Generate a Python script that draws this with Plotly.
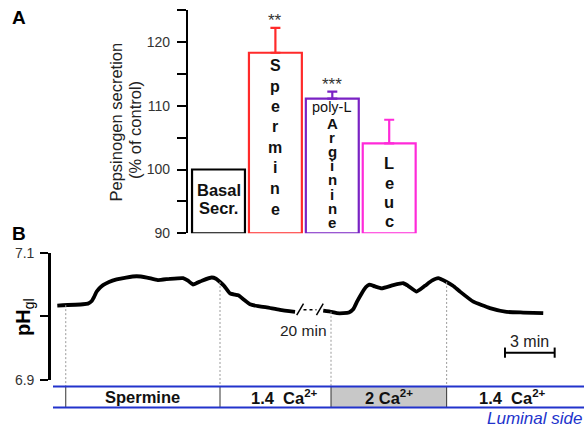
import numpy as np
import plotly.graph_objects as go

W, H = 584, 432
FONT = "Liberation Sans, Arial, sans-serif"

# ---------------- Panel A data ----------------
categories = ["Basal Secr.", "Spermine", "poly-L Arginine", "Leuc"]
secretion = [100.0, 118.3, 111.1, 104.1]          # % of control
secretion_err = [0.0, 3.9, 1.1, 3.7]              # upper error
significance = ["", "**", "***", ""]
bar_colors = ["#000000", "#ff2a2a", "#7a22c4", "#ff2ad9"]
a_ticks = [90, 95, 100, 105, 110, 115, 120, 125]
a_ticklabels = ["90", "", "100", "", "110", "", "120", ""]

# ---------------- Panel B data ----------------
time_min = [0.00, 1.55, 1.85, 2.08, 2.21, 2.38, 2.58, 2.76, 3.12, 3.58, 4.15, 4.79,
            5.41, 6.07, 6.80, 7.59, 7.89, 8.19, 8.73, 9.32, 9.58, 9.82, 10.06, 10.42,
            10.72, 10.92, 11.27, 11.63, 12.12, 12.64, 13.44, 14.35,
            None,
            16.05, 16.56, 16.88, 17.26, 17.60, 17.86, 18.09, 18.37, 18.63, 18.83, 19.17,
            19.58, 20.28, 20.88, 21.17, 21.69, 22.19, 22.61, 22.99, 23.50, 23.88, 24.30,
            25.11, 26.11, 27.12, 28.12, 29.33]
ph_gl = [7.017, 7.019, 7.020, 7.024, 7.030, 7.039, 7.045, 7.049, 7.054, 7.058, 7.061, 7.063,
         7.061, 7.057, 7.059, 7.060, 7.056, 7.050, 7.056, 7.061, 7.059, 7.054, 7.048, 7.036,
         7.034, 7.033, 7.026, 7.019, 7.016, 7.014, 7.010, 7.007,
         None,
         7.009, 7.007, 7.005, 7.005, 7.006, 7.011, 7.023, 7.036, 7.046, 7.050, 7.047,
         7.044, 7.049, 7.052, 7.048, 7.039, 7.048, 7.056, 7.060, 7.054, 7.048, 7.039,
         7.023, 7.013, 7.007, 7.006, 7.005]
event_times = [0.51, 9.82, 16.52, 23.50]
stripe_labels = ["Spermine", "1.4\u00a0 Ca<sup>2+</sup>", "2 Ca<sup>2+</sup>", "1.4\u00a0 Ca<sup>2+</sup>"]
stripe_fill = ["white", "white", "#c8c8c8", "white"]
b_ticks = [6.9, 7.0, 7.1]
b_ticklabels = ["6.9", "", "7.1"]
scale_start = 27.02
scale_len = 3
scale_ph = 6.943
break_label = "20 min"


def px(x):
    return x / W


def py(y):
    return 1 - y / H


# axis geometry
xa_dom = [px(188), px(430)]
ya_dom = [py(233.3), py(10)]
xb_dom = [px(51), 1.0]
yb_dom = [py(380), py(252.7)]
xb_range = [-0.38, 31.79]
yb_range = [b_ticks[0], b_ticks[-1]]


def ph_to_paper(v):
    return yb_dom[0] + (v - yb_range[0]) / (yb_range[1] - yb_range[0]) * (yb_dom[1] - yb_dom[0])


def ann(**kw):
    d = dict(showarrow=False, xanchor="center", yanchor="middle")
    d.update(kw)
    return d


fig = go.Figure()

# ---------- Panel A bars ----------
floor = a_ticks[0]
for i, cat in enumerate(categories):
    err = secretion_err[i]
    fig.add_trace(go.Bar(
        x=[i], y=[secretion[i] - floor], base=[floor], width=0.93,
        marker=dict(color="white", line=dict(color=bar_colors[i], width=2.2)),
        error_y=dict(type="data", symmetric=False, array=[err], arrayminus=[0],
                     color=bar_colors[i], thickness=2.2, width=5, visible=err > 0),
        xaxis="x", yaxis="y", name=cat, hoverinfo="skip"))

annotations = []
# significance stars
for i, s in enumerate(significance):
    if s:
        annotations.append(ann(x=i, y=secretion[i] + secretion_err[i], xref="x", yref="y",
                               text=s, yshift=7,
                               font=dict(family=FONT, size=17, color="#333")))


def letters(word, xi, y0, step, size=16, bold=True):
    for k, ch in enumerate(word):
        t = f"<b>{ch}</b>" if bold else ch
        annotations.append(ann(x=xi, y=py(y0 + k * step), xref="x", yref="paper", text=t,
                               font=dict(family=FONT, size=size, color="#111")))


# bar inner labels
annotations.append(ann(x=0, y=py(189.5), xref="x", yref="paper", text="<b>Basal</b>",
                       font=dict(family=FONT, size=16.5, color="#111")))
annotations.append(ann(x=0, y=py(207.5), xref="x", yref="paper", text="<b>Secr.</b>",
                       font=dict(family=FONT, size=16.5, color="#111")))
letters("Spermine", 1, 65.5, 20.5)
annotations.append(ann(x=2, y=py(107.5), xref="x", yref="paper", text="poly-L",
                       font=dict(family=FONT, size=14.5, color="#111")))
letters("Arginine", 2, 123, 14.2, size=15)
letters("Leuc", 3, 163.4, 19.3, size=16.5)

# axis A title
annotations.append(ann(x=px(115), y=py(122.5), xref="paper", yref="paper",
                       text="Pepsinogen secretion", textangle=-90,
                       font=dict(family=FONT, size=16.5, color="#222")))
annotations.append(ann(x=px(135), y=py(130), xref="paper", yref="paper",
                       text="(% of control)", textangle=-90,
                       font=dict(family=FONT, size=16.5, color="#222")))
# panel letters
annotations.append(ann(x=px(18.5), y=py(17.5), xref="paper", yref="paper", text="<b>A</b>",
                       font=dict(family=FONT, size=19, color="black")))
annotations.append(ann(x=px(18.5), y=py(233.5), xref="paper", yref="paper", text="<b>B</b>",
                       font=dict(family=FONT, size=19, color="black")))

# ---------- Panel B trace ----------
fig.add_trace(go.Scatter(x=time_min, y=ph_gl, mode="lines", connectgaps=False,
                         line=dict(color="black", width=3.8, shape="spline", smoothing=0.4),
                         xaxis="x2", yaxis="y2", hoverinfo="skip", showlegend=False))

t_valid = np.array([t for t in time_min if t is not None])
p_valid = np.array([p for p in ph_gl if p is not None])

shapes = []
stripe_top, stripe_bot = py(386.5), py(407.5)
# dashed event lines
for t in event_times:
    v = float(np.interp(t, t_valid, p_valid))
    shapes.append(dict(type="line", xref="x2", yref="paper", x0=t, x1=t,
                       y0=ph_to_paper(v), y1=stripe_top,
                       line=dict(color="#9a9a9a", width=1, dash="2px,2px")))

# stripe cells
bounds = event_times + [xb_range[1]]
for i in range(len(stripe_labels)):
    if stripe_fill[i] != "white":
        shapes.append(dict(type="rect", xref="x2", yref="paper", x0=bounds[i], x1=bounds[i + 1],
                           y0=stripe_bot, y1=stripe_top, fillcolor=stripe_fill[i],
                           line=dict(width=0)))
for t in event_times:
    shapes.append(dict(type="line", xref="x2", yref="paper", x0=t, x1=t,
                       y0=stripe_bot, y1=stripe_top, line=dict(color="#333", width=1)))
for yy in (stripe_top, stripe_bot):
    shapes.append(dict(type="line", xref="paper", yref="paper", x0=px(53), x1=1,
                       y0=yy, y1=yy, line=dict(color="#2233cc", width=2.2)))
label_dx = [0, 9, 0, -3]
for i, lab in enumerate(stripe_labels):
    annotations.append(ann(x=(bounds[i] + bounds[i + 1]) / 2, y=py(396.5), xref="x2", yref="paper",
                           xshift=label_dx[i], text=f"<b>{lab}</b>",
                           font=dict(family=FONT, size=16.5, color="#111")))
annotations.append(ann(x=px(584), y=py(418.5), xref="paper", yref="paper", xanchor="right",
                       text="<i>Luminal side</i>",
                       font=dict(family=FONT, size=17, color="#2233cc")))

# break marks
brk0 = time_min[time_min.index(None) - 1]
brk1 = time_min[time_min.index(None) + 1]
gap = brk1 - brk0
for a in (brk0 + 0.06 * gap, brk1 - 0.24 * gap):
    shapes.append(dict(type="line", xref="x2", yref="y2", x0=a, x1=a + 0.24 * gap,
                       y0=7.002, y1=7.020, line=dict(color="black", width=1.5)))
shapes.append(dict(type="line", xref="x2", yref="y2", x0=brk0 + 0.3 * gap, x1=brk1 - 0.24 * gap,
                   y0=7.0105, y1=7.0105, line=dict(color="black", width=1.5, dash="dot")))
annotations.append(ann(x=px(303), y=py(330), xref="paper", yref="paper", text=break_label,
                       font=dict(family=FONT, size=15.5, color="#222")))

# scale bar
shapes.append(dict(type="line", xref="x2", yref="y2", x0=scale_start, x1=scale_start + scale_len,
                   y0=scale_ph, y1=scale_ph, line=dict(color="black", width=2)))
for xx in (scale_start, scale_start + scale_len):
    shapes.append(dict(type="line", xref="x2", yref="y2", x0=xx, x1=xx,
                       y0=scale_ph - 0.008, y1=scale_ph + 0.008, line=dict(color="black", width=2)))
annotations.append(ann(x=scale_start + scale_len / 2, y=scale_ph, xref="x2", yref="y2",
                       yshift=11, text=f"{scale_len} min",
                       font=dict(family=FONT, size=16, color="#222")))

# pH label
annotations.append(ann(x=px(24), y=py(317), xref="paper", yref="paper",
                       text="<b>pH</b><sub>gl</sub>", textangle=-90,
                       font=dict(family=FONT, size=20, color="black")))

fig.update_layout(
    width=W, height=H, margin=dict(l=0, r=0, t=0, b=0, pad=0, autoexpand=False),
    paper_bgcolor="white", plot_bgcolor="white", showlegend=False, barmode="overlay",
    xaxis=dict(domain=xa_dom, range=[-0.536, 3.717], visible=False, anchor="y", automargin=False),
    yaxis=dict(domain=ya_dom, range=[a_ticks[0], a_ticks[-1]], anchor="x", automargin=False,
               showline=True, linecolor="black", linewidth=2.2, showgrid=False, zeroline=False,
               ticks="outside", ticklen=9, tickwidth=1.8, tickcolor="black",
               tickvals=a_ticks, ticktext=a_ticklabels, ticklabelstandoff=4,
               tickfont=dict(family=FONT, size=14, color="#333")),
    xaxis2=dict(domain=xb_dom, range=xb_range, visible=False, anchor="y2", automargin=False),
    yaxis2=dict(domain=yb_dom, range=yb_range, anchor="x2", automargin=False,
                showline=True, linecolor="black", linewidth=2.6, showgrid=False, zeroline=False,
                ticks="outside", ticklen=8, tickwidth=2, tickcolor="black",
                tickvals=b_ticks, ticktext=b_ticklabels, ticklabelstandoff=3,
                tickfont=dict(family=FONT, size=14, color="#333")),
    shapes=shapes, annotations=annotations,
)

fig.write_html("out.html")
